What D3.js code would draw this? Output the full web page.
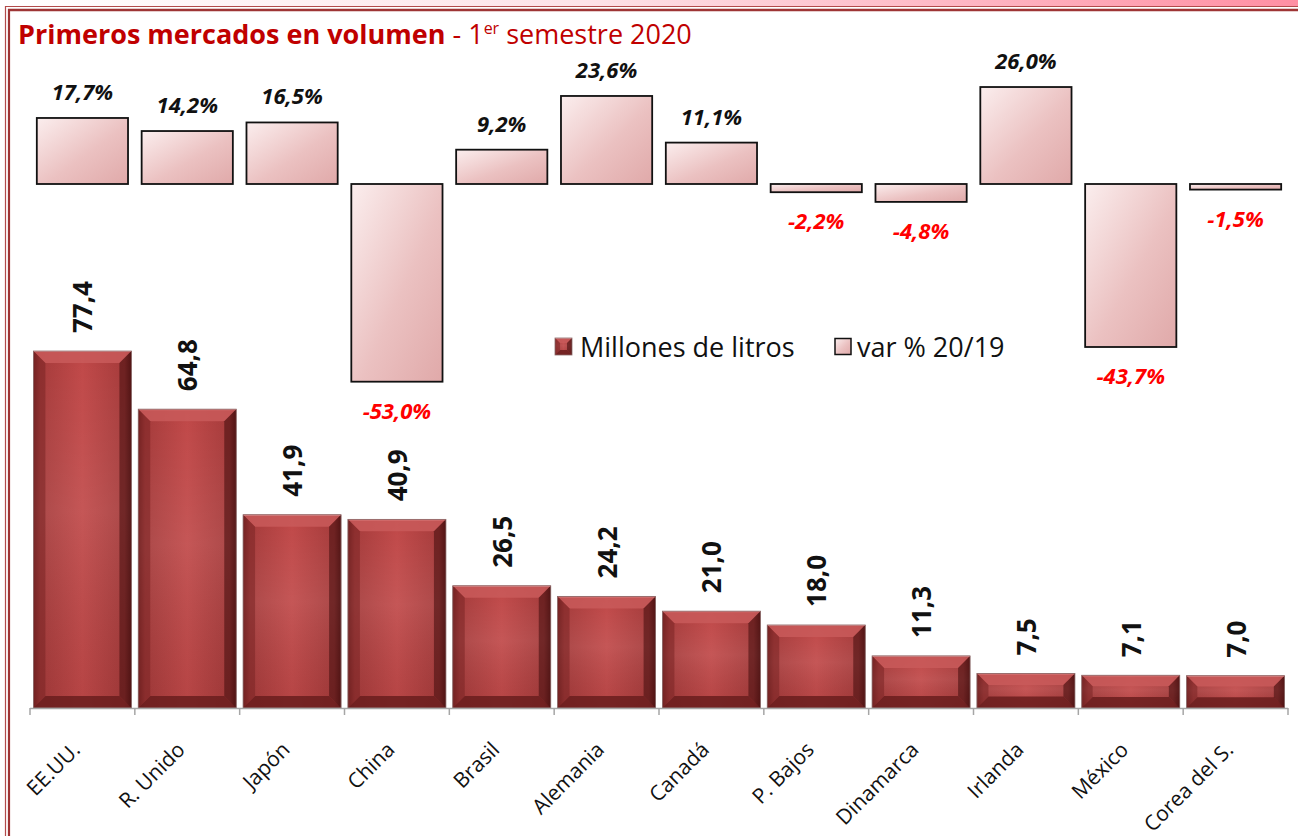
<!DOCTYPE html>
<html lang="es">
<head>
<meta charset="UTF-8">
<title>Primeros mercados en volumen</title>
<script src="https://d3js.org/d3.v7.min.js"></script>
<style>
  body { margin: 0; background: #fff; }
  text { font-family: "Open Sans", Lato, sans-serif; }
</style>
</head>
<body>
<svg id="chart" width="1298" height="836"></svg>
<script>
// data
const paises = ["EE.UU.", "R. Unido", "Japón", "China", "Brasil", "Alemania",
                "Canadá", "P. Bajos", "Dinamarca", "Irlanda", "México", "Corea del S."];
const millones = [77.4, 64.8, 41.9, 40.9, 26.5, 24.2, 21.0, 18.0, 11.3, 7.5, 7.1, 7.0];
const variacion = [17.7, 14.2, 16.5, -53.0, 9.2, 23.6, 11.1, -2.2, -4.8, 26.0, -43.7, -1.5];

const svg = d3.select("#chart");
const W = 1298, H = 836;
const fmt = d => d.toFixed(1).replace(".", ",");

// defs: gradients
const defs = svg.append("defs");
const topBand = defs.append("linearGradient").attr("id", "topband");
topBand.append("stop").attr("offset", "0%").attr("stop-color", "#ffffff");
topBand.append("stop").attr("offset", "45%").attr("stop-color", "#fde3e8");
topBand.append("stop").attr("offset", "100%").attr("stop-color", "#ff8fa3");

const face = defs.append("linearGradient").attr("id", "face");
[["0%", "#6e1f1f"], ["7%", "#a53a3a"], ["50%", "#c04848"], ["93%", "#a53a3a"], ["100%", "#5e1818"]]
  .forEach(s => face.append("stop").attr("offset", s[0]).attr("stop-color", s[1]));
const faceV = defs.append("linearGradient").attr("id", "faceV").attr("x1", 0).attr("x2", 0).attr("y1", 0).attr("y2", 1);
[["0%", "#ffffff", 0.0], ["45%", "#ffffff", 0.08], ["100%", "#000000", 0.05]]
  .forEach(s => faceV.append("stop").attr("offset", s[0]).attr("stop-color", s[1]).attr("stop-opacity", s[2]));

const pink = defs.append("linearGradient").attr("id", "pink")
  .attr("x1", 0).attr("y1", 0).attr("x2", 1).attr("y2", 1);
[["0%", "#fbeeee"], ["55%", "#ebc1c1"], ["100%", "#e0a9a9"]]
  .forEach(s => pink.append("stop").attr("offset", s[0]).attr("stop-color", s[1]));

// decorative top band and double border
svg.append("rect").attr("x", 0).attr("y", 0).attr("width", W).attr("height", 7).attr("fill", "url(#topband)");
svg.append("line").attr("x1", 5).attr("x2", W).attr("y1", 6.5).attr("y2", 6.5).attr("stroke", "#b24a4a").attr("stroke-width", 1.2);
svg.append("line").attr("x1", 8).attr("x2", W).attr("y1", 10).attr("y2", 10).attr("stroke", "#9e3535").attr("stroke-width", 2.4);
svg.append("line").attr("x1", 5.5).attr("x2", 5.5).attr("y1", 6).attr("y2", H).attr("stroke", "#b24a4a").attr("stroke-width", 1.2);
svg.append("line").attr("x1", 9).attr("x2", 9).attr("y1", 9).attr("y2", H).attr("stroke", "#9e3535").attr("stroke-width", 2.2);

// title
const title = svg.append("text").attr("x", 18).attr("y", 44).attr("font-size", 27).attr("fill", "#c00000");
title.append("tspan").attr("font-weight", "bold").text("Primeros mercados en volumen");
title.append("tspan").text(" - 1");
title.append("tspan").attr("font-size", 16).attr("dy", -10).text("er");
title.append("tspan").attr("dy", 10).text(" semestre 2020");

// scales
const x = d3.scaleBand().domain(paises).range([30, 1288]).padding(0);
const y = d3.scaleLinear().domain([0, 80]).range([708, 708 - 80 * 4.612]);
const yv = d3.scaleLinear().domain([-60, 30]).range([184 + 60 * 3.73, 184 - 30 * 3.73]);

const bw = x.bandwidth() * 0.935;
const vw = x.bandwidth() * 0.87;

// variation bars
const vg = svg.append("g");
paises.forEach((p, i) => {
  const v = variacion[i];
  const cx = x(p) + x.bandwidth() / 2;
  const y0 = yv(Math.max(0, v)), y1 = yv(Math.min(0, v));
  vg.append("rect")
    .attr("x", cx - vw / 2).attr("y", y0)
    .attr("width", vw).attr("height", Math.max(y1 - y0, 4))
    .attr("fill", "url(#pink)").attr("stroke", "#111").attr("stroke-width", 1.8);
  vg.append("text")
    .attr("x", cx)
    .attr("y", v >= 0 ? y0 - 18 : y1 + 37)
    .attr("text-anchor", "middle")
    .attr("font-size", 22).attr("font-weight", "bold").attr("font-style", "italic")
    .attr("fill", v >= 0 ? "#111" : "#ff0000")
    .text(fmt(v) + "%");
});

// bevelled bar helper
function bevelBar(g, bx, by, w, h, b) {
  const bb = Math.min(b, h / 3);
  g.append("rect").attr("x", bx).attr("y", by).attr("width", w).attr("height", h).attr("fill", "url(#face)");
  g.append("rect").attr("x", bx).attr("y", by).attr("width", w).attr("height", h).attr("fill", "url(#faceV)");
  // top bevel
  g.append("polygon")
    .attr("points", [[bx, by], [bx + w, by], [bx + w - bb, by + bb], [bx + bb, by + bb]].join(" "))
    .attr("fill", "#c95a5a").attr("opacity", 0.85);
  g.append("line").attr("x1", bx).attr("x2", bx + w).attr("y1", by + 0.5).attr("y2", by + 0.5)
    .attr("stroke", "#e08a8a").attr("stroke-width", 1);
  // bottom bevel
  g.append("polygon")
    .attr("points", [[bx, by + h], [bx + w, by + h], [bx + w - bb, by + h - bb], [bx + bb, by + h - bb]].join(" "))
    .attr("fill", "#6a1d1d").attr("opacity", 0.85);
  // left / right bevels
  g.append("polygon")
    .attr("points", [[bx, by], [bx + bb, by + bb], [bx + bb, by + h - bb], [bx, by + h]].join(" "))
    .attr("fill", "#7a2424").attr("opacity", 0.55);
  g.append("polygon")
    .attr("points", [[bx + w, by], [bx + w - bb, by + bb], [bx + w - bb, by + h - bb], [bx + w, by + h]].join(" "))
    .attr("fill", "#4a1010").attr("opacity", 0.6);
  g.append("rect").attr("x", bx).attr("y", by).attr("width", w).attr("height", h)
    .attr("fill", "none").attr("stroke", "#8a6a6a").attr("stroke-width", 0.8);
}

// volume bars
const bg = svg.append("g");
paises.forEach((p, i) => {
  const cx = x(p) + x.bandwidth() / 2;
  const top = y(millones[i]);
  const h = y(0) - top;
  bevelBar(bg, cx - bw / 2, top, bw, h, 12);
  bg.append("text")
    .attr("transform", `translate(${cx + 10},${top - 18}) rotate(-90)`)
    .attr("font-size", 26).attr("font-weight", "bold").attr("fill", "#111")
    .attr("font-family", "'Liberation Sans', Arial, sans-serif")
    .text(fmt(millones[i]));
});

// x axis
const ax = svg.append("g");
ax.append("line").attr("x1", 30).attr("x2", 1288).attr("y1", 708.5).attr("y2", 708.5)
  .attr("stroke", "#a6a6a6").attr("stroke-width", 1.5);
const edges = paises.map(p => x(p)).concat([x.range()[1]]);
ax.selectAll("line.tick").data(edges).enter().append("line")
  .attr("class", "tick")
  .attr("x1", d => d).attr("x2", d => d).attr("y1", 708).attr("y2", 715)
  .attr("stroke", "#a6a6a6").attr("stroke-width", 1.5);
ax.selectAll("text.lab").data(paises).enter().append("text")
  .attr("class", "lab")
  .attr("transform", d => `translate(${x(d) + x.bandwidth() / 2 - 1},${751}) rotate(-45)`)
  .attr("text-anchor", "end")
  .attr("font-size", 21).attr("fill", "#111")
  .text(d => d);

// legend
const lg = svg.append("g");
bevelBar(lg, 555, 338, 17, 17, 5);
lg.append("text").attr("x", 580).attr("y", 357).attr("font-size", 27).attr("fill", "#111").text("Millones de litros");
lg.append("rect").attr("x", 835).attr("y", 338.5).attr("width", 16).attr("height", 16)
  .attr("fill", "url(#pink)").attr("stroke", "#111").attr("stroke-width", 1.5);
lg.append("text").attr("x", 857).attr("y", 357).attr("font-size", 27).attr("fill", "#111").text("var % 20/19");
</script>
</body>
</html>
